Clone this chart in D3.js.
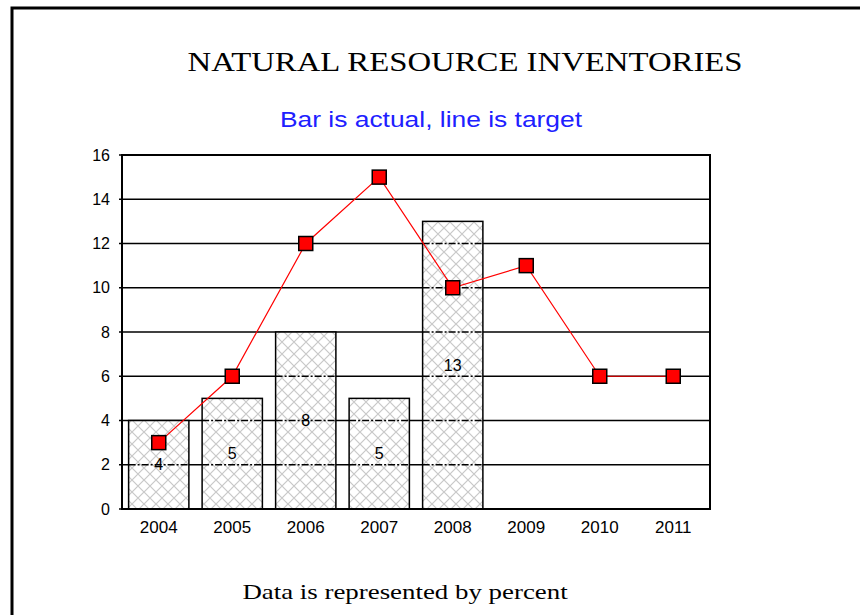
<!DOCTYPE html>
<html>
<head>
<meta charset="utf-8">
<script src="https://cdn.jsdelivr.net/npm/d3@7"></script>
<style>
  body { margin: 0; background: #fff; }
  .tick text { font-family: "Liberation Sans", Arial, sans-serif; }
</style>
</head>
<body>
<div id="chart"></div>
<script>
var years = ["2004", "2005", "2006", "2007", "2008", "2009", "2010", "2011"];
var actual = [4, 5, 8, 5, 13, null, null, null];
var target = [3, 6, 12, 15, 10, 11, 6, 6];
var yTicks = [0, 2, 4, 6, 8, 10, 12, 14, 16];

var width = 860,
    height = 615;

var plot = { left: 122, right: 710, top: 155, bottom: 509 };

var svg = d3.select("#chart")
    .append("svg")
    .attr("width", width)
    .attr("height", height);

// cross hatch for the bars
var defs = svg.append("defs");
var pat = defs.append("pattern")
    .attr("id", "hatch")
    .attr("patternUnits", "userSpaceOnUse")
    .attr("width", 12)
    .attr("height", 12);
pat.append("rect").attr("width", 12).attr("height", 12).attr("fill", "#fff");
pat.append("path")
    .attr("d", "M0,0L12,12M12,0L0,12")
    .attr("stroke", "#c8c8c8")
    .attr("stroke-width", 1.2);

// page frame
svg.append("rect")
    .attr("x", 12)
    .attr("y", 8)
    .attr("width", 1000)
    .attr("height", 1000)
    .attr("fill", "none")
    .attr("stroke", "#000")
    .attr("stroke-width", 3);

// the source picture is stretched sideways, so the texts are too
function wideText(cx, by, sx, size, family, fill, str) {
    svg.append("text")
        .attr("transform", "translate(" + cx + "," + by + ") scale(" + sx + ",1)")
        .attr("text-anchor", "middle")
        .style("font-family", family)
        .style("font-size", size + "px")
        .attr("fill", fill)
        .text(str);
}

var serif = "'Liberation Serif', 'Times New Roman', serif";
var sans = "'Liberation Sans', Arial, sans-serif";

wideText(465, 71, 1.17, 28, serif, "#000", "NATURAL RESOURCE INVENTORIES");
wideText(431, 127, 1.2, 22, sans, "#2020ff", "Bar is actual, line is target");
wideText(405, 599, 1.28, 21, serif, "#000", "Data is represented by percent");

var x = d3.scaleBand()
    .domain(years)
    .range([plot.left, plot.right])
    .paddingInner(0.18)
    .paddingOuter(0.09);

var y = d3.scaleLinear()
    .domain([0, 16])
    .range([plot.bottom, plot.top]);

// grid lines
svg.append("g")
    .selectAll("line")
    .data(yTicks)
    .enter().append("line")
    .attr("x1", plot.left - 3)
    .attr("x2", plot.right)
    .attr("y1", function (d) { return y(d); })
    .attr("y2", function (d) { return y(d); })
    .attr("stroke", "#000")
    .attr("stroke-width", 1.5);

var barData = years.map(function (yr, i) { return { year: yr, value: actual[i] }; })
    .filter(function (d) { return d.value != null; });

var bars = svg.append("g")
    .selectAll("g")
    .data(barData)
    .enter().append("g");

bars.append("rect")
    .attr("x", function (d) { return x(d.year); })
    .attr("y", function (d) { return y(d.value); })
    .attr("width", x.bandwidth())
    .attr("height", function (d) { return y(0) - y(d.value); })
    .attr("fill", "url(#hatch)")
    .attr("stroke", "#000")
    .attr("stroke-width", 1.5);

// grid seen through the bars is dashed
bars.each(function (d) {
    d3.select(this).selectAll("line.inner")
        .data(yTicks.filter(function (t) { return t > 0 && t < d.value; }))
        .enter().append("line")
        .attr("class", "inner")
        .attr("x1", x(d.year))
        .attr("x2", x(d.year) + x.bandwidth())
        .attr("y1", function (t) { return y(t); })
        .attr("y2", function (t) { return y(t); })
        .attr("stroke", "#000")
        .attr("stroke-width", 1.5)
        .attr("stroke-dasharray", "7,2,2,2");
});

bars.append("text")
    .attr("x", function (d) { return x(d.year) + x.bandwidth() / 2; })
    .attr("y", function (d) { return (y(d.value) + y(0)) / 2; })
    .attr("dy", "0.35em")
    .attr("text-anchor", "middle")
    .style("font-family", sans)
    .style("font-size", "16px")
    .text(function (d) { return d.value; });

// plot frame
svg.append("rect")
    .attr("x", plot.left)
    .attr("y", plot.top)
    .attr("width", plot.right - plot.left)
    .attr("height", plot.bottom - plot.top)
    .attr("fill", "none")
    .attr("stroke", "#000")
    .attr("stroke-width", 2);

// axes
var yAxis = svg.append("g")
    .attr("transform", "translate(" + plot.left + ",0)")
    .call(d3.axisLeft(y).tickValues(yTicks).tickSize(0).tickPadding(12));
yAxis.select(".domain").remove();
yAxis.selectAll("text").style("font-size", "16px").attr("fill", "#000");

var xAxis = svg.append("g")
    .attr("transform", "translate(0," + plot.bottom + ")")
    .call(d3.axisBottom(x).tickSize(0).tickPadding(12));
xAxis.select(".domain").remove();
xAxis.selectAll("text").style("font-size", "17px").attr("fill", "#000");

// target line
var cx = function (i) { return x(years[i]) + x.bandwidth() / 2; };
var line = d3.line()
    .x(function (d, i) { return cx(i); })
    .y(function (d) { return y(d); });

svg.append("path")
    .datum(target)
    .attr("d", line)
    .attr("fill", "none")
    .attr("stroke", "#ff0000")
    .attr("stroke-width", 1.2);

var ms = 14;
svg.append("g")
    .selectAll("rect")
    .data(target)
    .enter().append("rect")
    .attr("x", function (d, i) { return cx(i) - ms / 2; })
    .attr("y", function (d) { return y(d) - ms / 2; })
    .attr("width", ms)
    .attr("height", ms)
    .attr("fill", "#ff0000")
    .attr("stroke", "#000")
    .attr("stroke-width", 1.5);
</script>
</body>
</html>
